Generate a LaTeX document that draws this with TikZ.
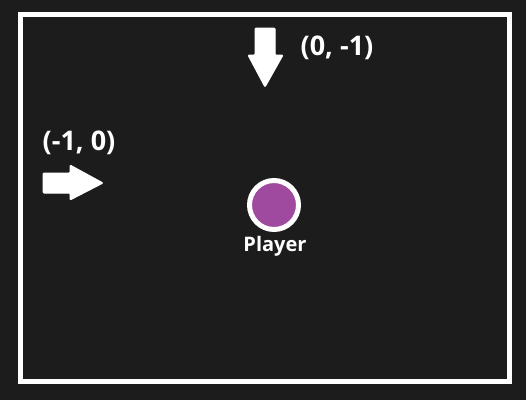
\documentclass[tikz,border=0pt]{standalone}
\usepackage{fontspec}
\setmainfont{Open Sans}
\definecolor{bgdark}{HTML}{1C1C1C}
\definecolor{playerpurple}{HTML}{A04A9F}
\begin{document}
\begin{tikzpicture}[x=1pt,y=-1pt,
  lbl/.style={text=white,font=\fontsize{27}{31}\selectfont\bfseries},
  blockarrow/.style={fill=white,draw=white,line width=1pt,rounded corners=1pt}]
\fill[bgdark] (0,0) rectangle (526,400);
\useasboundingbox (0,0) rectangle (526,400);
\draw[white,line width=5pt] (20.5,14.5) rectangle (509.5,381.5);

% arrows
\fill[blockarrow] (255,28)--(275,28)--(275,55)--(283,55)--(265,87)--(248,55)--(255,55)--cycle;
\fill[blockarrow] (43,173)--(70,173)--(70,165)--(103,183)--(70,200)--(70,193)--(43,193)--cycle;
\node (up) at (337,48)[lbl]{(0, -1)};
\node (left) at (79,143)[lbl]{(-1, 0)};

% player
\node (p) at (274,205)[circle,draw=white,line width=5pt,fill=playerpurple,minimum size=49pt,inner sep=0pt]{};
\node (pl) at (275,246)[text=white,font=\fontsize{20}{23}\selectfont\bfseries]{Player};
\end{tikzpicture}
\end{document}
